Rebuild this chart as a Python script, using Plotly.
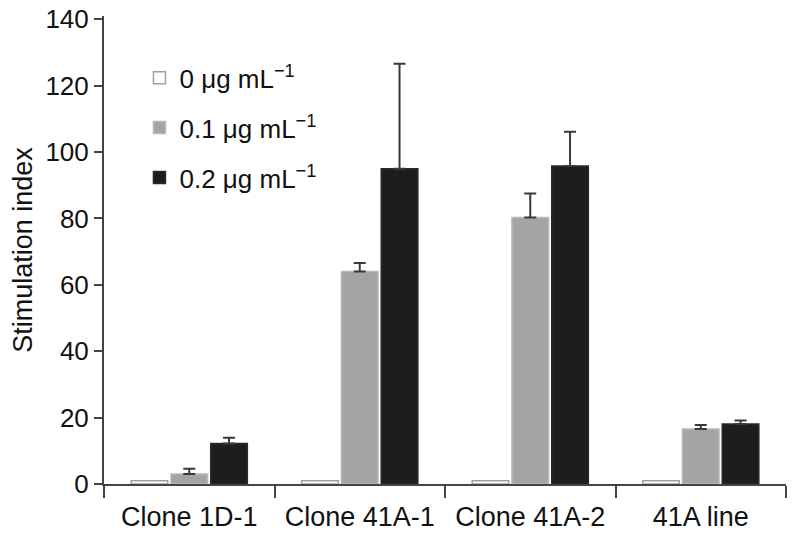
import plotly.graph_objects as go

categories = ["Clone 1D-1", "Clone 41A-1", "Clone 41A-2", "41A line"]
series_names = ["0 μg mL<sup>−1</sup>", "0.1 μg mL<sup>−1</sup>", "0.2 μg mL<sup>−1</sup>"]
vals_0 = [1.0, 1.0, 1.0, 1.0]
vals_01 = [3.0, 64.0, 80.3, 16.6]
vals_02 = [12.2, 95.0, 95.8, 18.1]
err_0 = [0, 0, 0, 0]
err_01 = [1.6, 2.6, 7.2, 1.2]
err_02 = [1.7, 31.6, 10.3, 1.0]
y_ticks = [0, 20, 40, 60, 80, 100, 120, 140]

fills = ["#ffffff", "#a4a4a4", "#1d1d1d"]
outlines = ["#a0a0a0", "#b8b8b8", "#2a2a2a"]

fig = go.Figure()
for name, vals, errs, fc, lc in zip(series_names, [vals_0, vals_01, vals_02],
                                    [err_0, err_01, err_02], fills, outlines):
    fig.add_trace(go.Bar(
        x=categories, y=vals, name=name, legendgroup=name,
        marker=dict(color=fc, line=dict(color=lc, width=1.5)),
        error_y=dict(type="data", symmetric=False, array=errs,
                     arrayminus=[0] * len(errs), visible=any(e > 0 for e in errs),
                     color="#3a3a3a", thickness=2, width=6),
    ))

font_family = "Liberation Sans, Arial, Helvetica, sans-serif"
fig.update_layout(
    width=784, height=523,
    margin=dict(l=96, r=6, t=8, b=47, autoexpand=False),
    paper_bgcolor="white", plot_bgcolor="white",
    font=dict(family=font_family, size=27, color="#111111"),
    barmode="group", bargap=0.3, bargroupgap=0.08,
    showlegend=True,
    legend=dict(x=0.052, y=0.918, xanchor="left", yanchor="top",
                bgcolor="rgba(0,0,0,0)", font=dict(size=26),
                traceorder="grouped", tracegroupgap=13),
    xaxis=dict(showline=True, linecolor="#444444", linewidth=2,
               ticks="outside", tickson="boundaries", ticklen=12,
               tickwidth=2, tickcolor="#444444", showgrid=False,
               tickfont=dict(size=27), automargin=False,
               ticklabelstandoff=8),
    yaxis=dict(range=[0, 141], tickvals=y_ticks, showline=True,
               linecolor="#444444", linewidth=2, ticks="outside",
               ticklen=8, tickwidth=2, tickcolor="#444444",
               showgrid=False, zeroline=False, automargin=False,
               ticklabeloverflow="allow",
               title=dict(text="Stimulation index", font=dict(size=27), standoff=10),
               tickfont=dict(size=26)),
)

fig.write_html("out.html")
